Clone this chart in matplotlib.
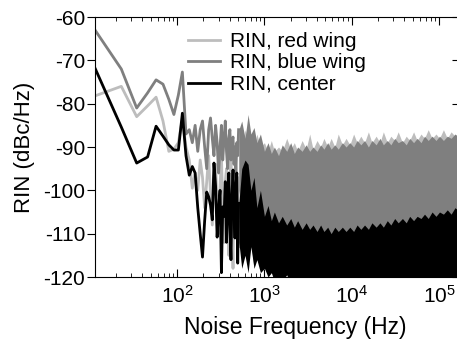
import numpy as np
import matplotlib.pyplot as plt
from matplotlib.ticker import LogLocator, NullFormatter

plt.rcParams['font.family'] = ['Liberation Sans', 'DejaVu Sans']
plt.rcParams['axes.unicode_minus'] = False

# fft bins, 11.5 Hz apart (low frequency part drawn as lines)
df = 11.5
bins = np.arange(1, 45)
freq = bins*df

red_wing = [-78.2, -76, -83, -80.5, -78.5, -84, -91, -90.5, -89, -83.5,
            -90, -93, -99.5, -96, -100, -93, -97, -104, -98, -92,
            -101, -108, -97, -94, -103, -110, -99, -92, -104, -112,
            -98, -95, -106, -115, -100, -93, -108, -118, -101, -96,
            -110, -104, -97, -113]
blue_wing = [-63, -72, -81, -77.5, -74.5, -75.5, -79, -82.5, -78, -72.7,
             -87, -86, -89, -85, -91, -86, -84, -90, -95, -86,
             -83.3, -88, -92, -85, -89, -96, -90, -85, -93, -88,
             -84, -91, -95, -88, -86, -93, -89, -87.7, -94, -90,
             -96, -89, -92, -86]
center = [-71.8, -85.4, -93.7, -92.3, -85.2, -87.5, -89.5, -90.7, -90.7, -82.2,
          -92, -96.5, -94.5, -96, -104, -110, -115.4, -107, -100.4, -101.5,
          -103.4, -106.8, -93.7, -99, -110.8, -104, -100, -119, -103.8, -106,
          -98, -112, -104, -96, -108, -116, -101, -95.3, -104, -111,
          -99, -96, -116.8, -103]

# high frequency part: envelopes of the dense noise
band_freq = [510, 550, 600, 650, 700, 760, 820, 900, 1000, 1100,
             1200, 1300, 1450, 1600, 1800, 2000, 2200, 2400, 2700, 3000,
             3300, 3600, 4000, 4400, 4800, 5300, 5800, 6400, 7000, 7800,
             8600, 9500, 10500, 11500, 12700, 14000, 15500, 17000, 19000, 21000,
             23000, 25500, 28000, 31000, 34000, 38000, 42000, 46000, 51000, 56000,
             62000, 68000, 75000, 83000, 92000, 101000, 112000, 124000, 137000, 152000,
             175000]
blue_top = [-86, -84, -88, -82.5, -87, -85.5, -89, -87, -91, -89,
            -91.5, -90, -92, -89.5, -91, -89, -91.5, -90, -91, -89.5,
            -91, -90, -91, -89.5, -90.5, -89, -90.5, -89.5, -90.5, -89,
            -90, -89, -90, -88.5, -89.5, -88.5, -90, -88.5, -89.5, -88,
            -89.5, -88.5, -89.5, -88, -89, -88.5, -89.5, -88, -89, -88,
            -89, -87.5, -88.5, -87.5, -88.5, -87.5, -88.5, -87.5, -88, -87,
            -88]
blue_bot = [-100, -104, -99, -106, -102, -108, -104, -110, -112, -112,
            -112, -112, -112, -112, -112, -112, -112, -112, -112, -112,
            -112, -112, -112, -112, -112, -112, -112, -112, -112, -112,
            -112, -112, -112, -112, -112, -112, -112, -112, -112, -112,
            -112, -112, -112, -112, -112, -112, -112, -112, -112, -112,
            -112, -112, -112, -112, -112, -112, -112, -112, -112, -112,
            -112]
red_top = [-88, -90, -86, -89, -88, -90, -87, -90, -89, -91,
           -88.5, -91, -90, -91, -88, -90.5, -89, -91, -88.5, -90.5,
           -87, -90.5, -88.5, -90, -88, -90, -88, -90, -87, -89.5,
           -88, -89.5, -87, -89, -87.5, -89, -86.5, -89, -87.5, -89,
           -86.5, -89, -87.5, -88.5, -86.5, -89, -87.5, -88.5, -86.5, -88.5,
           -87, -88, -86, -88, -87, -88, -86, -88, -86.5, -87.5,
           -86.5]
red_bot = [-108, -114, -110, -117, -112, -118, -113, -118, -116, -119,
           -117, -115, -115, -115, -115, -115, -115, -115, -115, -115,
           -115, -115, -115, -115, -115, -115, -115, -115, -115, -115,
           -115, -115, -115, -115, -115, -115, -115, -115, -115, -115,
           -115, -115, -115, -115, -115, -115, -115, -115, -115, -115,
           -115, -115, -115, -115, -115, -115, -115, -115, -115, -115,
           -115]
center_top = [-103, -95, -93, -94, -100, -97, -104, -100, -106, -103.5,
              -107, -105, -107.5, -106, -108, -106.5, -108.5, -107, -109, -107.5,
              -109, -108, -109.5, -108, -109.5, -108.5, -110, -108.5, -109.5, -108.5,
              -109.5, -108.5, -109.5, -108, -109, -108, -109, -107.5, -108.5, -107.5,
              -108.5, -107, -108, -106.5, -107.5, -106.5, -107.5, -106, -107, -106,
              -106.5, -105.5, -106.5, -105, -106, -105, -105.5, -104.5, -105.5, -104,
              -105]
center_bot = [-112, -118, -115, -119, -113, -118, -116, -119, -118, -120,
              -119, -121, -120, -121, -119.5, -122, -120.5, -123, -121, -125,
              -125, -125, -125, -125, -125, -125, -125, -125, -125, -125,
              -125, -125, -125, -125, -125, -125, -125, -125, -125, -125,
              -125, -125, -125, -125, -125, -125, -125, -125, -125, -125,
              -125, -125, -125, -125, -125, -125, -125, -125, -125, -125,
              -125]

labels = ['RIN, red wing', 'RIN, blue wing', 'RIN, center']
colors = ['#bdbdbd', '#7f7f7f', 'black']

fig = plt.figure(figsize=(4.57, 3.43), dpi=100)
ax = fig.add_axes([0.2079, 0.1924, 0.799, 0.758])

ax.plot(freq, red_wing, color=colors[0], lw=2, label=labels[0], zorder=1)
ax.fill_between(band_freq, red_bot, red_top, color=colors[0], lw=0, zorder=1)
ax.plot(freq, blue_wing, color=colors[1], lw=2, label=labels[1], zorder=2)
ax.fill_between(band_freq, blue_bot, blue_top, color=colors[1], lw=0, zorder=2)
ax.plot(freq, center, color=colors[2], lw=2, label=labels[2], zorder=3)
ax.fill_between(band_freq, center_bot, center_top, color=colors[2], lw=0, zorder=3)

ax.set_xscale('log')
ax.set_xlim(11.5, 1.74e5)
ax.set_ylim(-120, -60)
ax.set_yticks(np.arange(-120, -59, 10))
ax.xaxis.set_major_locator(LogLocator(base=10, numticks=10))
ax.xaxis.set_minor_locator(LogLocator(base=10, subs=np.arange(2, 10), numticks=20))
ax.xaxis.set_minor_formatter(NullFormatter())
ax.set_axisbelow(True)

ax.tick_params(axis='x', which='both', direction='in', top=True, labelsize=15)
ax.tick_params(axis='x', which='major', length=6, pad=6)
ax.tick_params(axis='x', which='minor', length=3)
ax.tick_params(axis='y', direction='out', length=6, pad=1, right=False, labelsize=15)
ax.spines['right'].set_visible(False)

# inward ticks on the right side, kept under the data
ax2 = ax.twinx()
ax2.set_ylim(-120, -60)
ax2.set_yticks(np.arange(-120, -59, 10))
ax2.tick_params(axis='y', direction='in', length=6, labelright=False)
for s in ax2.spines.values():
    s.set_visible(False)
ax2.set_zorder(ax.get_zorder() - 1)
ax.patch.set_visible(False)

ax.set_xlabel('Noise Frequency (Hz)', fontsize=16.5)
ax.set_ylabel('RIN (dBc/Hz)', fontsize=16)
ax.xaxis.set_label_coords(0.548, -0.15)
ax.yaxis.set_label_coords(-0.165, 0.5)

ax.legend(loc='upper left', bbox_to_anchor=(188/457, 1 - 32/343), bbox_transform=fig.transFigure,
          frameon=False, fontsize=15, handlelength=1.55, handletextpad=0.45,
          labelspacing=0.12, borderpad=0, borderaxespad=0)

fig.savefig('out.png', dpi=100)
